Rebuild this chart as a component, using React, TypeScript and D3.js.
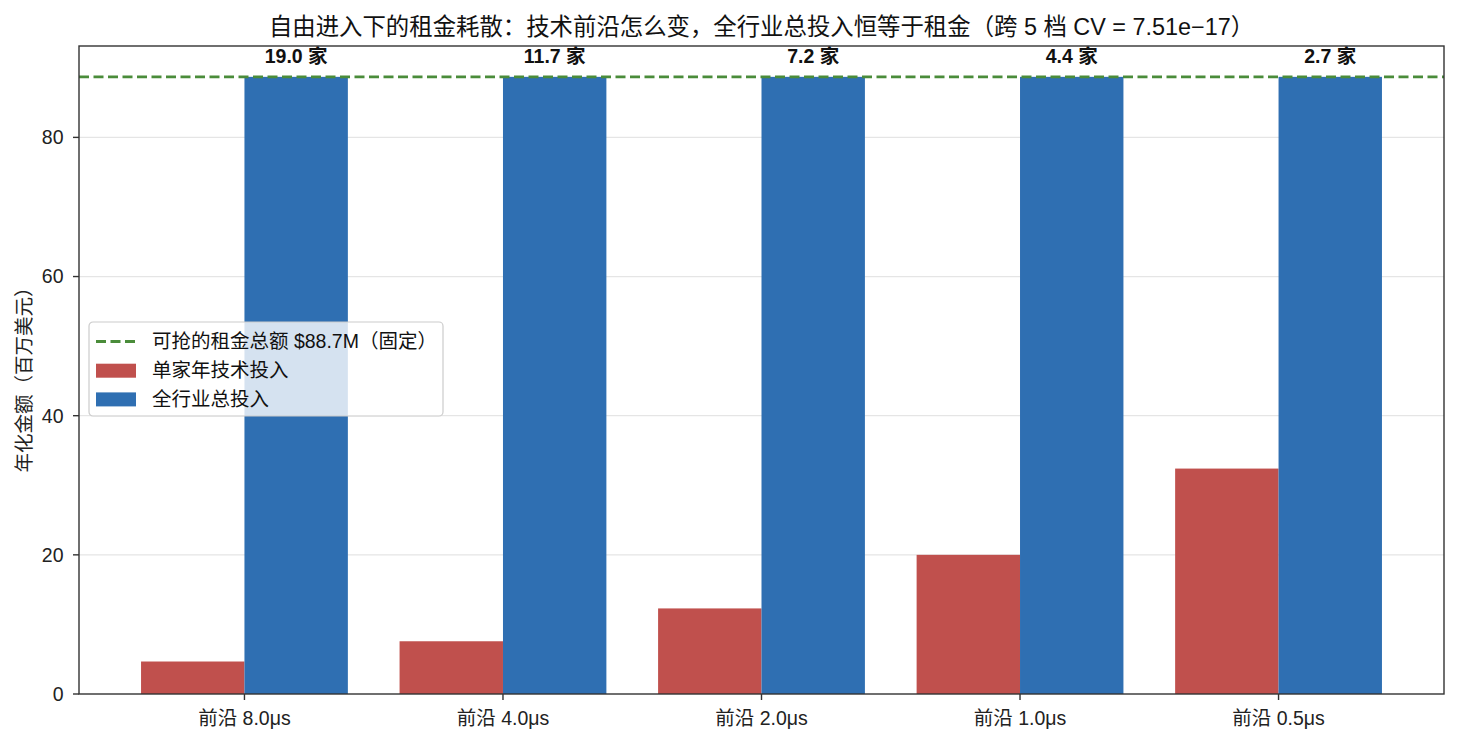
import { useEffect, useRef } from 'react';
import * as d3 from 'd3';

// data
const categories = ['前沿 8.0μs', '前沿 4.0μs', '前沿 2.0μs', '前沿 1.0μs', '前沿 0.5μs'];
const perFirm = [4.67, 7.58, 12.3, 20.0, 32.4];
const industryTotal = [88.7, 88.7, 88.7, 88.7, 88.7];
const firmCounts = ['19.0 家', '11.7 家', '7.2 家', '4.4 家', '2.7 家'];
const rentTotal = 88.7;
const yTicks = [0, 20, 40, 60, 80];

const W = 1457;
const H = 742;
const FONT = '"Liberation Sans", "Noto Sans CJK SC", sans-serif';
const FS = 19.5;
const RED = '#c0504d';
const BLUE = '#2f6fb2';
const GREEN = '#4a8c3a';

export default function App() {
  const svgRef = useRef<SVGSVGElement>(null);

  useEffect(() => {
    if (!svgRef.current) return;
    const margin = { top: 46, right: 13, bottom: 48, left: 79 };
    const innerW = W - margin.left - margin.right;
    const innerH = H - margin.top - margin.bottom;

    const svg = d3.select(svgRef.current);
    svg.selectAll('*').remove();
    svg.attr('width', W).attr('height', H).style('font-family', FONT);

    svg.append('rect').attr('width', W).attr('height', H).attr('fill', '#fff');

    const g = svg.append('g').attr('transform', `translate(${margin.left},${margin.top})`);

    // x as continuous index like matplotlib: bars at i +/- 0.4, margin 0.05
    const n = categories.length;
    const barW = 0.4;
    const lo = -barW, hi = n - 1 + barW;
    const pad = (hi - lo) * 0.05;
    const x = d3.scaleLinear().domain([lo - pad, hi + pad]).range([0, innerW]);
    const y = d3.scaleLinear().domain([0, rentTotal * 1.05]).range([innerH, 0]);

    // grid
    g.append('g')
      .selectAll('line')
      .data(yTicks.filter(t => t > 0))
      .join('line')
      .attr('x1', 0).attr('x2', innerW)
      .attr('y1', d => y(d)).attr('y2', d => y(d))
      .attr('stroke', '#e5e5e5').attr('stroke-width', 1.2);

    // bars
    g.append('g')
      .selectAll('rect')
      .data(perFirm)
      .join('rect')
      .attr('x', (_, i) => x(i - barW))
      .attr('width', (_, i) => x(i) - x(i - barW))
      .attr('y', d => y(d))
      .attr('height', d => y(0) - y(d))
      .attr('fill', RED);

    g.append('g')
      .selectAll('rect')
      .data(industryTotal)
      .join('rect')
      .attr('x', (_, i) => x(i))
      .attr('width', (_, i) => x(i + barW) - x(i))
      .attr('y', d => y(d))
      .attr('height', d => y(0) - y(d))
      .attr('fill', BLUE);

    // rent line
    g.append('line')
      .attr('x1', 0).attr('x2', innerW)
      .attr('y1', y(rentTotal)).attr('y2', y(rentTotal))
      .attr('stroke', GREEN).attr('stroke-width', 2.8)
      .attr('stroke-dasharray', '10,4.5');

    // firm count labels
    g.append('g')
      .selectAll('text')
      .data(firmCounts)
      .join('text')
      .attr('x', (_, i) => x(i + barW / 2))
      .attr('y', y(rentTotal) - 13.5)
      .attr('text-anchor', 'middle')
      .attr('font-size', FS)
      .attr('font-weight', 'bold')
      .attr('fill', '#111')
      .text(d => d);

    // y axis
    const yAxis = g.append('g');
    yAxis.selectAll('line')
      .data(yTicks)
      .join('line')
      .attr('x1', -6).attr('x2', 0)
      .attr('y1', d => y(d)).attr('y2', d => y(d))
      .attr('stroke', '#333').attr('stroke-width', 1.4);
    yAxis.selectAll('text')
      .data(yTicks)
      .join('text')
      .attr('x', -15.5)
      .attr('y', d => y(d))
      .attr('dy', '0.35em')
      .attr('text-anchor', 'end')
      .attr('font-size', FS)
      .attr('fill', '#222')
      .text(d => d);

    // x axis
    const xAxis = g.append('g');
    xAxis.selectAll('line')
      .data(categories)
      .join('line')
      .attr('x1', (_, i) => x(i)).attr('x2', (_, i) => x(i))
      .attr('y1', innerH).attr('y2', innerH + 6)
      .attr('stroke', '#333').attr('stroke-width', 1.4);
    xAxis.selectAll('text')
      .data(categories)
      .join('text')
      .attr('x', (_, i) => x(i))
      .attr('y', innerH + 31)
      .attr('text-anchor', 'middle')
      .attr('font-size', FS)
      .attr('fill', '#222')
      .text(d => d);

    // frame
    g.append('rect')
      .attr('width', innerW).attr('height', innerH)
      .attr('fill', 'none').attr('stroke', '#333').attr('stroke-width', 1.4);

    // y label
    svg.append('text')
      .attr('transform', `translate(24,375) rotate(-90)`)
      .attr('dy', '0.35em')
      .attr('text-anchor', 'middle')
      .attr('font-size', FS)
      .attr('fill', '#222')
      .text('年化金额（百万美元）');

    // title
    svg.append('text')
      .attr('x', margin.left + innerW / 2)
      .attr('y', 35)
      .attr('text-anchor', 'middle')
      .attr('font-size', 23.4)
      .attr('fill', '#111')
      .text('自由进入下的租金耗散：技术前沿怎么变，全行业总投入恒等于租金（跨 5 档 CV = 7.51e−17）');

    // legend
    const leg = svg.append('g').attr('transform', 'translate(89,322)');
    leg.append('rect')
      .attr('width', 354).attr('height', 94).attr('rx', 4)
      .attr('fill', 'rgba(255,255,255,0.8)')
      .attr('stroke', '#cccccc').attr('stroke-width', 1.2);
    const items = [
      { label: `可抢的租金总额 $${rentTotal}M（固定）`, kind: 'line', color: GREEN },
      { label: '单家年技术投入', kind: 'bar', color: RED },
      { label: '全行业总投入', kind: 'bar', color: BLUE },
    ];
    items.forEach((it, i) => {
      const cy = 19.5 + i * 28.7;
      if (it.kind === 'line') {
        leg.append('line')
          .attr('x1', 7).attr('x2', 47).attr('y1', cy).attr('y2', cy)
          .attr('stroke', it.color).attr('stroke-width', 2.8)
          .attr('stroke-dasharray', '10,4.5');
      } else {
        leg.append('rect')
          .attr('x', 7).attr('y', cy - 6.5).attr('width', 40).attr('height', 14)
          .attr('fill', it.color);
      }
      leg.append('text')
        .attr('x', 63).attr('y', cy)
        .attr('dy', '0.35em')
        .attr('font-size', FS)
        .attr('fill', '#111')
        .text(it.label);
    });
  }, []);

  return (
    <div style={{ position: 'absolute', left: 0, top: 0, width: W, height: H }}>
      <svg ref={svgRef} />
    </div>
  );
}
